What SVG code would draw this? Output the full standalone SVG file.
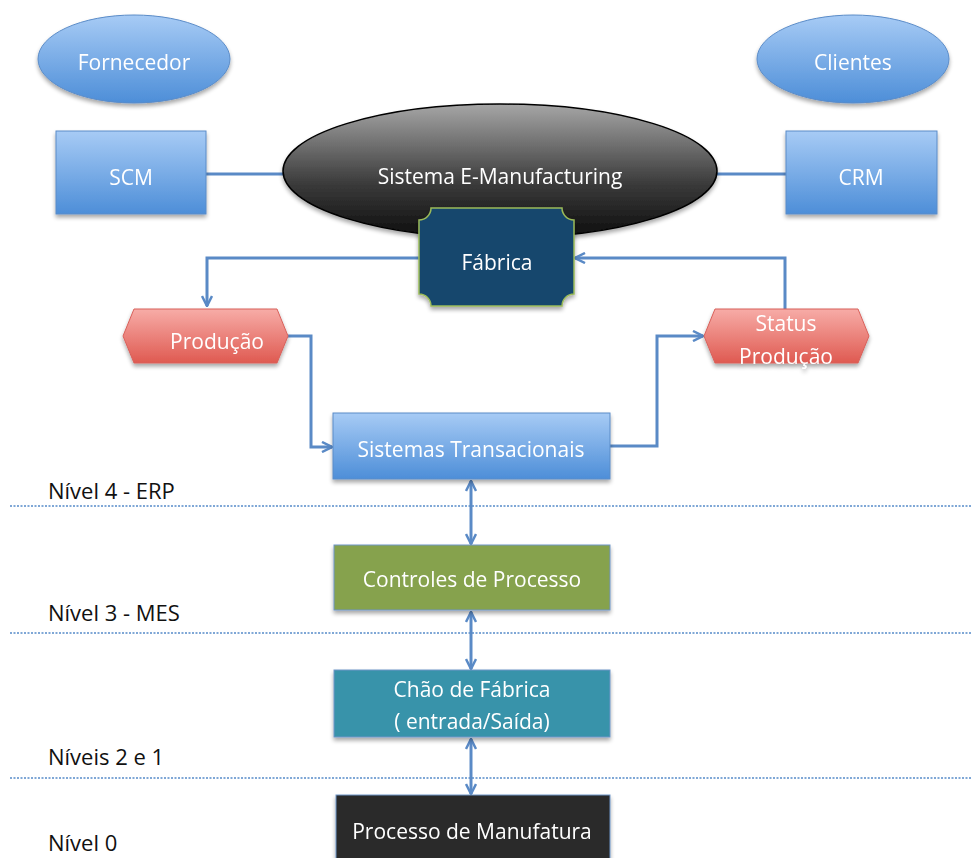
<svg xmlns="http://www.w3.org/2000/svg" width="972" height="858" viewBox="0 0 972 858">
  <style>
    .lbl { font-family: "Open Sans", "Liberation Sans", sans-serif; font-size: 21px; fill: #ffffff; text-anchor: middle; dominant-baseline: central; }
    .lvl { font-family: "Open Sans", "Liberation Sans", sans-serif; font-size: 22px; fill: #111111; dominant-baseline: central; }
    .blue { fill: url(#gBlue); stroke: #5b8cc8; stroke-width: 1; }
    .red { fill: url(#gRed); stroke: #d8605a; stroke-width: 1; }
    .conn { fill: none; stroke: #5a8ac6; stroke-width: 3; }
    .sep { stroke: #7fa7d6; stroke-width: 2; stroke-dasharray: 2 1.5; }
  </style>
  <defs>
    <linearGradient id="gBlue" x1="0" y1="0" x2="0" y2="1">
      <stop offset="0" stop-color="#a7cbf5"/>
      <stop offset="1" stop-color="#4d8ed8"/>
    </linearGradient>
    <linearGradient id="gRed" x1="0" y1="0" x2="0" y2="1">
      <stop offset="0" stop-color="#f7aca7"/>
      <stop offset="1" stop-color="#df5a51"/>
    </linearGradient>
    <linearGradient id="gDark" x1="0" y1="0" x2="0" y2="1">
      <stop offset="0" stop-color="#a6a6a6"/>
      <stop offset="0.6" stop-color="#3a3a3a"/>
      <stop offset="1" stop-color="#0d0d0d"/>
    </linearGradient>
    <filter id="shadow" x="-10%" y="-10%" width="120%" height="130%">
      <feGaussianBlur in="SourceAlpha" stdDeviation="2"/>
      <feOffset dx="0" dy="3" result="b"/>
      <feComponentTransfer><feFuncA type="linear" slope="0.35"/></feComponentTransfer>
      <feMerge><feMergeNode/><feMergeNode in="SourceGraphic"/></feMerge>
    </filter>
    <marker id="arrow" viewBox="0 0 12 12" refX="11" refY="6" markerWidth="12" markerHeight="12" markerUnits="userSpaceOnUse" orient="auto-start-reverse">
      <path d="M1,1 L11,6 L1,11" fill="none" stroke="#5a8ac6" stroke-width="2.5"/>
    </marker>
  </defs>

  <!-- level separators -->
  <g id="separators">
    <line class="sep" x1="10" y1="506" x2="972" y2="506"/>
    <line class="sep" x1="10" y1="633" x2="972" y2="633"/>
    <line class="sep" x1="10" y1="778" x2="972" y2="778"/>
  </g>

  <!-- connectors -->
  <g id="connectors">
    <line class="conn" x1="206" y1="174" x2="290" y2="174"/>
    <line class="conn" x1="712" y1="174" x2="786" y2="174"/>
    <polyline class="conn" points="420,258 207,258 207,306" marker-end="url(#arrow)"/>
    <polyline class="conn" points="785,309 785,258 575,258" marker-end="url(#arrow)"/>
    <polyline class="conn" points="288,336 311,336 311,447 332,447" marker-end="url(#arrow)"/>
    <polyline class="conn" points="610,446 657,446 657,336 703,336" marker-end="url(#arrow)"/>
    <line class="conn" x1="471" y1="481" x2="471" y2="544" marker-start="url(#arrow)" marker-end="url(#arrow)"/>
    <line class="conn" x1="471" y1="612" x2="471" y2="669" marker-start="url(#arrow)" marker-end="url(#arrow)"/>
    <line class="conn" x1="471" y1="739" x2="471" y2="794" marker-start="url(#arrow)" marker-end="url(#arrow)"/>
  </g>

  <g id="fornecedor" filter="url(#shadow)">
    <ellipse class="blue" cx="134" cy="59" rx="96" ry="44"/>
    <text class="lbl" x="134" y="62">Fornecedor</text>
  </g>
  <g id="clientes" filter="url(#shadow)">
    <ellipse class="blue" cx="853" cy="59" rx="96" ry="44"/>
    <text class="lbl" x="853" y="62">Clientes</text>
  </g>
  <g id="scm" filter="url(#shadow)">
    <rect class="blue" x="56" y="131" width="150" height="83"/>
    <text class="lbl" x="131" y="177">SCM</text>
  </g>
  <g id="crm" filter="url(#shadow)">
    <rect class="blue" x="786" y="131" width="151" height="83"/>
    <text class="lbl" x="861" y="177">CRM</text>
  </g>
  <g id="sistema-emanufacturing" filter="url(#shadow)">
    <ellipse cx="500" cy="171" rx="217" ry="67" fill="url(#gDark)" stroke="#000000" stroke-width="1.5"/>
    <text class="lbl" x="500" y="176">Sistema E-Manufacturing</text>
  </g>
  <g id="fabrica" filter="url(#shadow)">
    <path d="M431,208 H562 A12,12 0 0 0 574,220 V294 A12,12 0 0 0 562,306 H431 A12,12 0 0 0 419,294 V220 A12,12 0 0 0 431,208 Z" fill="#17466d" stroke="#9bbb59" stroke-width="1.5"/>
    <text class="lbl" x="497" y="262">Fábrica</text>
  </g>
  <g id="producao" filter="url(#shadow)">
    <polygon class="red" points="123,336 134,309 277,309 288,336 277,363 134,363"/>
    <text class="lbl" x="217" y="341">Produção</text>
  </g>
  <g id="status-producao" filter="url(#shadow)">
    <polygon class="red" points="704,336 715,309 858,309 869,336 858,363 715,363"/>
    <text class="lbl" x="786" y="323">Status</text>
    <text class="lbl" x="786" y="356">Produção</text>
  </g>
  <g id="sistemas-transacionais" filter="url(#shadow)">
    <rect class="blue" x="333" y="413" width="277" height="66"/>
    <text class="lbl" x="471" y="449">Sistemas Transacionais</text>
  </g>
  <g id="controles-de-processo" filter="url(#shadow)">
    <rect x="334" y="545" width="276" height="65" fill="#86a24e" stroke="#6e95c8" stroke-width="1"/>
    <text class="lbl" x="472" y="579">Controles de Processo</text>
  </g>
  <g id="chao-de-fabrica" filter="url(#shadow)">
    <rect x="334" y="670" width="276" height="67" fill="#3893aa" stroke="#6e95c8" stroke-width="1"/>
    <text class="lbl" x="472" y="689">Chão de Fábrica</text>
    <text class="lbl" x="472" y="721">( entrada/Saída)</text>
  </g>
  <g id="processo-de-manufatura" filter="url(#shadow)">
    <rect x="336" y="795" width="274" height="70" fill="#2b2b2b" stroke="#6e95c8" stroke-width="1"/>
    <text class="lbl" x="472" y="831">Processo de Manufatura</text>
  </g>

  <g id="level-labels">
    <text class="lvl" x="48" y="490">Nível 4 - ERP</text>
    <text class="lvl" x="48" y="612">Nível 3 - MES</text>
    <text class="lvl" x="48" y="756">Níveis 2 e 1</text>
    <text class="lvl" x="48" y="842">Nível 0</text>
  </g>
</svg>
